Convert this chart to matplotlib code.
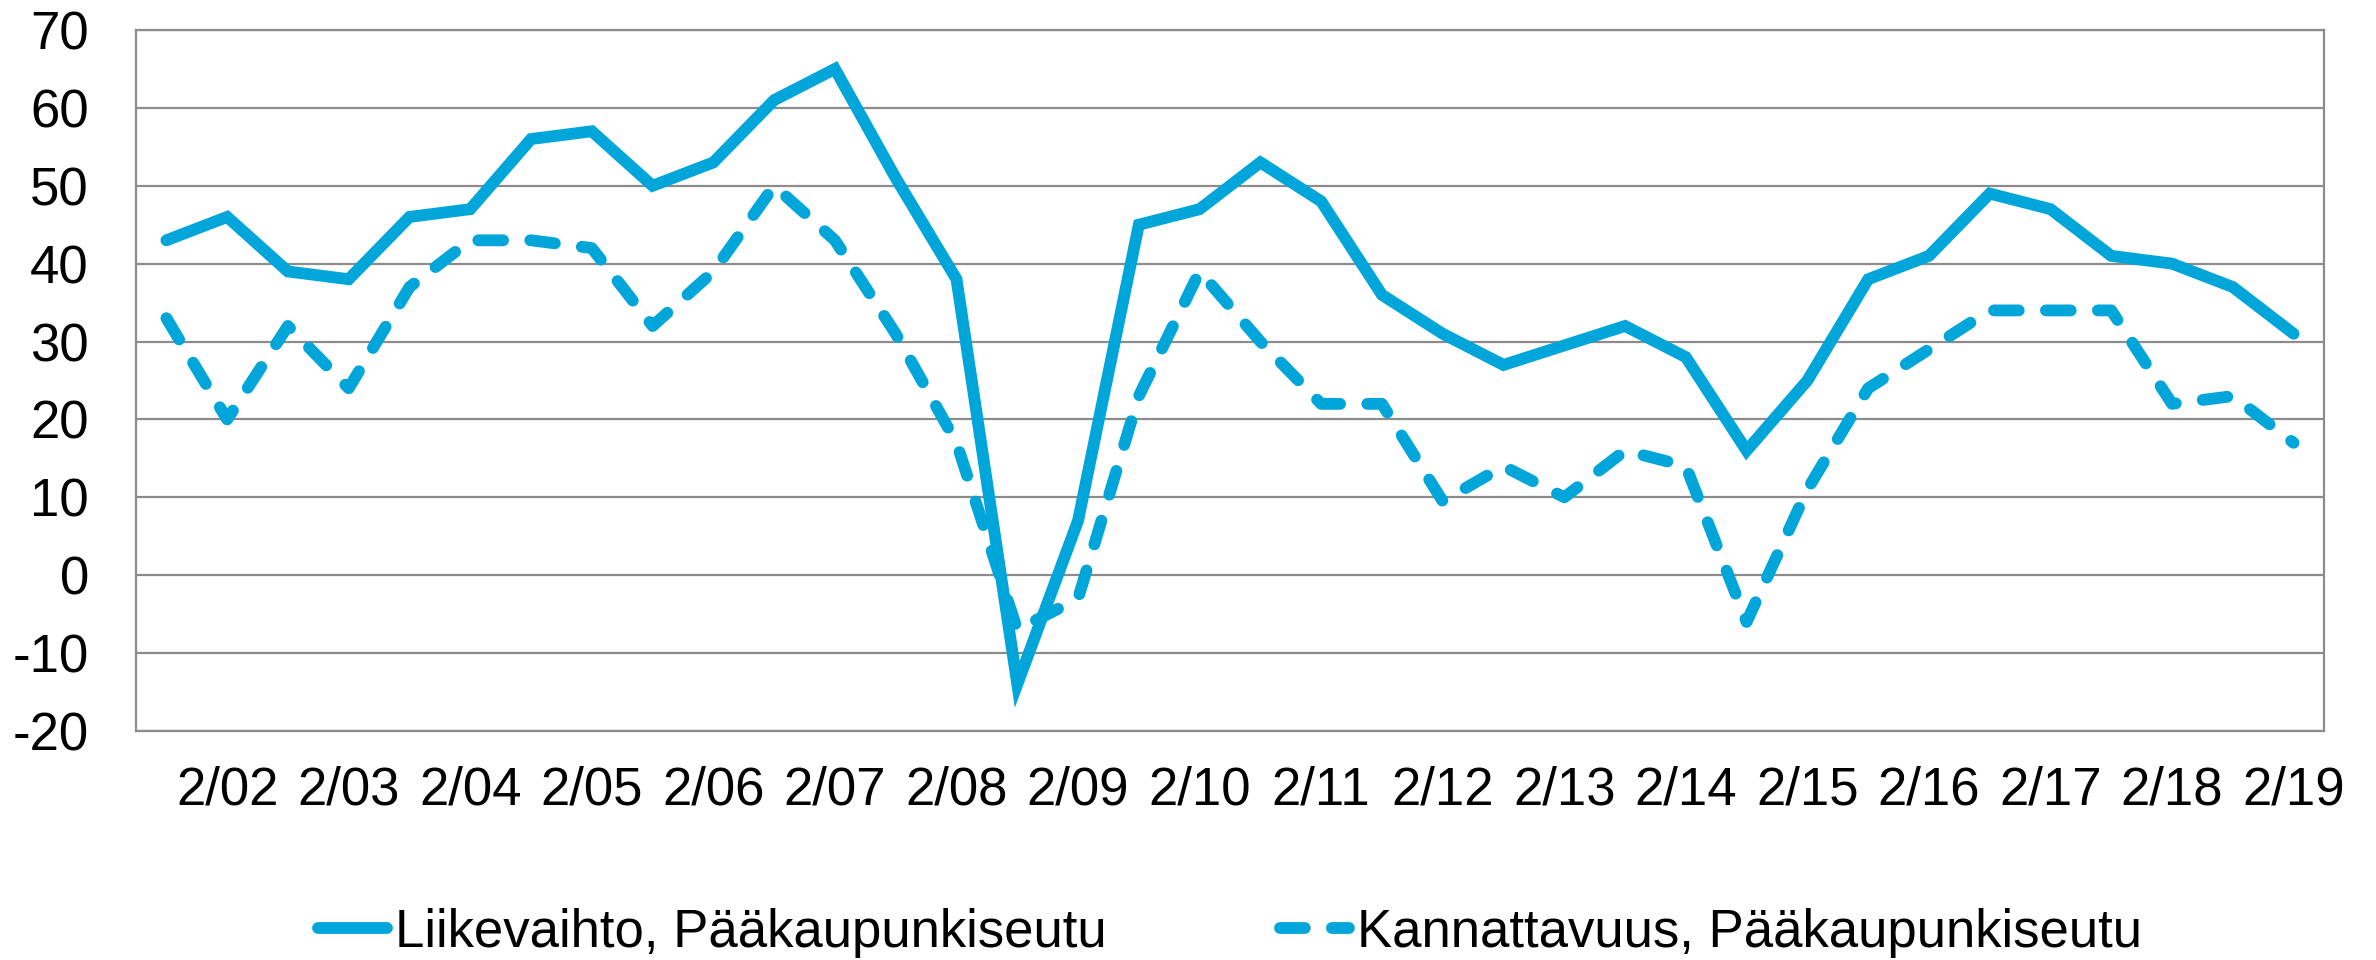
import numpy as np
import matplotlib
matplotlib.use('Agg')
import matplotlib.pyplot as plt

# datos (puolivuosittain 8/01 ... 2/19)
jaksot = ['8/01', '2/02', '8/02', '2/03', '8/03', '2/04', '8/04', '2/05', '8/05',
          '2/06', '8/06', '2/07', '8/07', '2/08', '8/08', '2/09', '8/09', '2/10',
          '8/10', '2/11', '8/11', '2/12', '8/12', '2/13', '8/13', '2/14', '8/14',
          '2/15', '8/15', '2/16', '8/16', '2/17', '8/17', '2/18', '8/18', '2/19']

liikevaihto = [43, 46, 39, 38, 46, 47, 56, 57, 50, 53, 61, 65, 51, 38, -14, 7, 45, 47,
               53, 48, 36, 31, 27, 29.5, 32, 28, 16, 25, 38, 41, 49, 47, 41, 40, 37, 31]

kannattavuus = [33, 20, 32, 24, 37, 43, 43, 42, 32, 39, 50, 43, 31, 17, -7, -3, 23, 39,
                30, 22, 22, 9.5, 14, 10, 16, 14, -6, 11, 24, 29, 34, 34, 34, 22, 23, 17]

nimet = ['Liikevaihto, Pääkaupunkiseutu', 'Kannattavuus, Pääkaupunkiseutu']

plt.rcParams['font.family'] = ['Liberation Sans', 'DejaVu Sans']
plt.rcParams['axes.unicode_minus'] = False

color = '#00A5DA'
gris = '#8C8C8C'

fig = plt.figure(figsize=(23.76, 9.6), dpi=100)
ax = fig.add_axes([136/2376, 1 - 731/960, (2324-136)/2376, (731-30)/960])

x = np.arange(len(jaksot))
ax.plot(x, liikevaihto, color=color, lw=8.5, solid_capstyle='round',
        solid_joinstyle='miter', label=nimet[0])
ax.plot(x, kannattavuus, color=color, lw=8.5, linestyle=(0, (2.1, 2.3)),
        dash_capstyle='round', dash_joinstyle='round', label=nimet[1])

ax.set_xlim(-0.5, len(jaksot) - 0.5)
ax.set_ylim(-20, 70)
ax.set_yticks(np.arange(-20, 71, 10))
ax.set_xticks(x[1::2])
ax.set_xticklabels(jaksot[1::2])

ax.tick_params(axis='both', length=0, labelsize=38)
ax.tick_params(axis='y', pad=34)
ax.tick_params(axis='x', pad=25)

ax.grid(axis='y', color=gris, lw=1.6)
ax.set_axisbelow(True)
for s in ax.spines.values():
    s.set_color(gris)
    s.set_linewidth(1.6)

ax.legend(loc='center', bbox_to_anchor=(0.5, -0.288), ncol=2, frameon=False,
          fontsize=38, handlelength=1.3, handletextpad=0.15, columnspacing=3.3)

fig.savefig('out.png', dpi=100)
